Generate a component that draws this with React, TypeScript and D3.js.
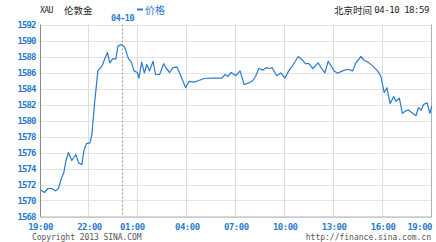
import React from "react";
import * as d3 from "d3";

const times: string[] = [
  "19:00","19:15","19:27","19:42","19:56","20:06","20:16","20:26","20:33","20:43","20:55","21:10","21:20","21:32","21:40","21:49",
  "22:02","22:09","22:19","22:31","22:46","22:53","23:06","23:15","23:25","23:37","23:45","23:57",
  "00:09","00:24","00:34","00:44","00:56","01:02","01:12","01:22","01:31","01:41","01:54","02:03","02:18","02:33","02:43","02:55",
  "03:07","03:22","03:34","03:44","03:54","04:06","04:25","04:43","05:01","05:32","06:07","06:19","06:29","06:41","06:53","06:59",
  "07:14","07:29","07:46","08:01","08:11","08:23","08:38","08:50","09:02","09:12","09:29","09:44","09:59","10:13","10:28","10:48",
  "11:02","11:15","11:27","11:42","12:01","12:14","12:26","12:38","12:53","13:00","13:13","13:31","13:50","14:08","14:20","14:39",
  "14:51","15:05","15:22","15:40","15:52","16:04","16:14","16:26","16:39","16:47","17:00","17:11","17:23","17:33","17:45","18:01",
  "18:10","18:20","18:29","18:42","18:52","18:59"
];

const prices: number[] = [
  1571.3,1571.0,1571.5,1571.5,1571.2,1571.5,1572.7,1573.5,1574.9,1576.0,1575.0,1575.75,1574.7,1574.5,1576.3,1577.1,
  1577.2,1578.25,1582.2,1586.2,1586.8,1587.4,1588.5,1587.2,1587.7,1587.7,1589.3,1589.5,
  1589.2,1587.7,1587.3,1586.2,1586.0,1585.3,1587.3,1585.95,1587.0,1586.2,1587.4,1585.75,1585.75,1587.1,1586.5,1586.0,
  1586.6,1586.7,1585.75,1584.9,1584.1,1584.9,1584.8,1585.0,1585.25,1585.3,1585.3,1585.75,1585.5,1586.0,1585.75,1585.6,
  1586.2,1584.5,1584.7,1585.0,1585.5,1586.5,1586.3,1586.6,1586.5,1586.6,1585.6,1585.95,1585.3,1586.2,1586.9,1588.0,
  1587.6,1587.1,1587.1,1586.5,1587.2,1586.5,1585.95,1587.4,1586.6,1586.2,1585.9,1586.2,1586.4,1586.2,1587.2,1588.0,
  1587.5,1587.3,1586.8,1586.2,1585.5,1583.5,1584.1,1582.1,1583.0,1582.4,1582.8,1580.9,1581.2,1581.3,1581.0,1580.6,
  1581.6,1581.3,1582.0,1582.2,1580.9,1581.8
];

const yTicks: number[] = [1568,1570,1572,1574,1576,1578,1580,1582,1584,1586,1588,1590,1592];
const xTickLabels: string[] = ["19:00","22:00","01:00","04:00","07:00","10:00","13:00","16:00","19:00"];

const symbol = "XAU";
const name = "伦敦金";
const seriesName = "价格";
const dayLabel = "04-10";
const clockLabel = "北京时间";
const clockTime = "04-10 18:59";
const copyright = "Copyright 2013 SINA.COM";
const url = "http://finance.sina.com.cn";

const BLUE = "#2a7bd0";
const MONO = "'DejaVu Sans Mono', 'Liberation Mono', monospace";
const CJK = "'Noto Sans CJK SC', sans-serif";

// minutes since 19:00 of previous day
function toMinutes(t: string): number {
  const [h, m] = t.split(":").map(Number);
  let mins = h * 60 + m - 19 * 60;
  if (mins < 0) mins += 24 * 60;
  return mins;
}

export default function App() {
  const W = 436, H = 242;
  const left = 40.5, right = 432, rightBorder = 431.5;
  const top = 24.5, bottom = 216.5;

  const x = d3.scaleLinear().domain([0, 24 * 60]).range([left, right]);
  const y = d3.scaleLinear().domain([1568, 1592]).range([bottom, top]);

  const data = times.map((t, i) => ({ m: toMinutes(t), v: prices[i] }));
  const line = d3.line<{ m: number; v: number }>().x(d => x(d.m)).y(d => y(d.v));

  const xTickMins = xTickLabels.map((_, i) => i * 180);
  const midnight = x(5 * 60);

  return (
    <svg width={W} height={H} style={{ position: "absolute", left: 0, top: 0, background: "#fff" }}>
      <rect x={0} y={0} width={W} height={H} fill="#fff" />
      {/* horizontal grid */}
      {yTicks.map(v => (
        <line key={"h" + v} x1={left} x2={rightBorder} y1={Math.round(y(v)) + 0.5} y2={Math.round(y(v)) + 0.5}
          stroke="#c8c8c8" strokeDasharray="1,1" />
      ))}
      {/* vertical grid */}
      {xTickMins.slice(1, -1).map(m => (
        <line key={"v" + m} x1={Math.round(x(m)) - 0.5} x2={Math.round(x(m)) - 0.5} y1={top} y2={bottom}
          stroke="#dcdcdc" />
      ))}
      {/* day divider */}
      <line x1={Math.round(midnight) + 0.5} x2={Math.round(midnight) + 0.5} y1={top} y2={bottom}
        stroke="#9a9a9a" strokeDasharray="2,2" />
      {/* borders */}
      <line x1={left} x2={left} y1={top} y2={bottom + 0.5} stroke="#8a8a8a" />
      <line x1={left} x2={rightBorder} y1={bottom + 0.5} y2={bottom + 0.5} stroke="#b0b0b0" />
      <line x1={rightBorder} x2={rightBorder} y1={top} y2={bottom + 0.5} stroke="#b0b0b0" />

      {/* price line */}
      <path d={line(data) || ""} fill="none" stroke={BLUE} strokeWidth={1.2} strokeLinejoin="round" />

      {/* y tick labels */}
      {yTicks.map(v => (
        <text key={"yt" + v} x={35.5} y={y(v) + 3} textAnchor="end" fill={BLUE}
          fontFamily={MONO} fontSize={9} fontWeight="bold" letterSpacing={-0.9}>{v}</text>
      ))}
      {/* x tick labels */}
      {xTickLabels.map((lab, i) => {
        const last = i === xTickLabels.length - 1;
        const dx = i === 2 ? -6 : 0;
        return (
          <text key={"xt" + i} x={last ? 432 : x(xTickMins[i]) + dx} y={230} textAnchor={last ? "end" : "middle"}
            fill={BLUE} fontFamily={MONO} fontSize={9} fontWeight="bold" letterSpacing={-0.5}>{lab}</text>
        );
      })}

      {/* header */}
      <text x={40} y={13} fill="#222" fontFamily={MONO} fontSize={8} letterSpacing={-0.6}>{symbol}</text>
      <text x={64} y={13.5} fill="#222" fontFamily={CJK} fontSize={9.5}>{name}</text>
      <line x1={137} x2={143} y1={9.5} y2={9.5} stroke={BLUE} strokeWidth={2} />
      <text x={145} y={13.5} fill={BLUE} fontFamily={CJK} fontSize={10}>{seriesName}</text>
      <text x={midnight + 0.5} y={21} textAnchor="middle" fill={BLUE} fontFamily={MONO} fontSize={8.5}
        fontWeight="bold" letterSpacing={-0.5}>{dayLabel}</text>
      <text x={334} y={13.5} fill="#222" fontFamily={CJK} fontSize={9.5}>{clockLabel}</text>
      <text x={429} y={13} textAnchor="end" fill="#222" fontFamily={MONO} fontSize={9}
        letterSpacing={-0.45}>{clockTime}</text>

      {/* footer */}
      <text x={32} y={240} fill="#555" fontFamily={MONO} fontSize={8} letterSpacing={-0.05}>{copyright}</text>
      <text x={431} y={240} textAnchor="end" fill="#555" fontFamily={MONO} fontSize={8} letterSpacing={0}>{url}</text>
    </svg>
  );
}
